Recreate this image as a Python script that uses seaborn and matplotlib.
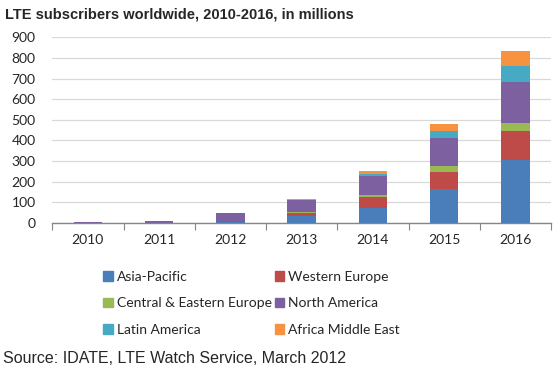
import pandas as pd
import seaborn as sns
import matplotlib.pyplot as plt
from matplotlib.patches import Patch

# values, millions of subscribers
years = ['2010', '2011', '2012', '2013', '2014', '2015', '2016']
regions = ['Asia-Pacific', 'Western Europe', 'Central & Eastern Europe',
           'North America', 'Latin America', 'Africa Middle East']
asia_pacific = [0.5, 0.5, 6, 32, 74, 163, 304]
western_europe = [0.5, 1.5, 4, 18, 52, 85, 143]
central_eastern_europe = [0, 0, 1, 3, 12, 27, 37]
north_america = [4, 9, 40, 60, 90, 136, 199]
latin_america = [0, 0, 0, 1, 11, 36, 77]
africa_middle_east = [0, 0, 0, 1, 12, 32, 73]
colors = ['#4a7ebb', '#be4b48', '#98b954', '#7d60a0', '#46aac5', '#f69240']

df = pd.DataFrame({'year': years,
                   'Asia-Pacific': asia_pacific,
                   'Western Europe': western_europe,
                   'Central & Eastern Europe': central_eastern_europe,
                   'North America': north_america,
                   'Latin America': latin_america,
                   'Africa Middle East': africa_middle_east})

# running totals, so each series can be drawn as a full bar from 0
cum = df[regions].cumsum(axis=1)
cum['year'] = df['year']

sns.set_style('white')
plt.rcParams['font.family'] = ['Lato', 'DejaVu Sans']

fig = plt.figure(figsize=(5.56, 3.73), dpi=100)
ax = fig.add_axes([0.094, 0.402, 0.897, 0.498])

# tallest first, shorter ones overlaid on top
for region, color in reversed(list(zip(regions, colors))):
    sns.barplot(data=cum, x='year', y=region, color=color, width=0.4,
                saturation=1, linewidth=0, ax=ax, zorder=3)

ax.set_ylim(0, 900)
ax.set_yticks(range(0, 901, 100))
ax.set_xlim(-0.5, 6.5)
ax.set_xlabel('')
ax.set_ylabel('')
ax.yaxis.grid(True, color='#d9d9d9', linewidth=0.9, zorder=0)
ax.set_axisbelow(True)
for s in ['top', 'right', 'left']:
    ax.spines[s].set_visible(False)
ax.spines['bottom'].set_color('#868686')
ax.spines['bottom'].set_linewidth(1)

# tick marks sit between the categories
ax.set_xticks([i - 0.5 for i in range(8)], minor=False)
ax.set_xticklabels([])
ax.set_xticks(range(7), minor=True)
ax.set_xticklabels(years, minor=True)
ax.tick_params(axis='x', which='major', length=5, color='#868686', direction='out', bottom=True)
ax.tick_params(axis='x', which='minor', length=0, labelsize=10, pad=8)
ax.tick_params(axis='y', length=0, labelsize=10, pad=12)

fig.text(0.009, 0.962, 'LTE subscribers worldwide, 2010-2016, in millions',
         fontsize=10.5, fontweight='bold', family='Liberation Sans', va='center')

handles = [Patch(color=c) for c in colors]
# matplotlib fills legend columns first
order = [0, 2, 4, 1, 3, 5]
fig.legend([handles[i] for i in order], [regions[i] for i in order],
           ncol=2, loc='upper left', bbox_to_anchor=(0.185, 0.274),
           frameon=False, fontsize=10, handlelength=0.7, handleheight=0.7,
           handletextpad=0.3, columnspacing=0.2, labelspacing=1.05,
           borderpad=0, borderaxespad=0)

fig.text(0.005, 0.038, 'Source: IDATE, LTE Watch Service, March 2012',
         fontsize=11.5, family='Liberation Sans', va='center')

plt.savefig('out.png', dpi=100)
plt.close('all')
